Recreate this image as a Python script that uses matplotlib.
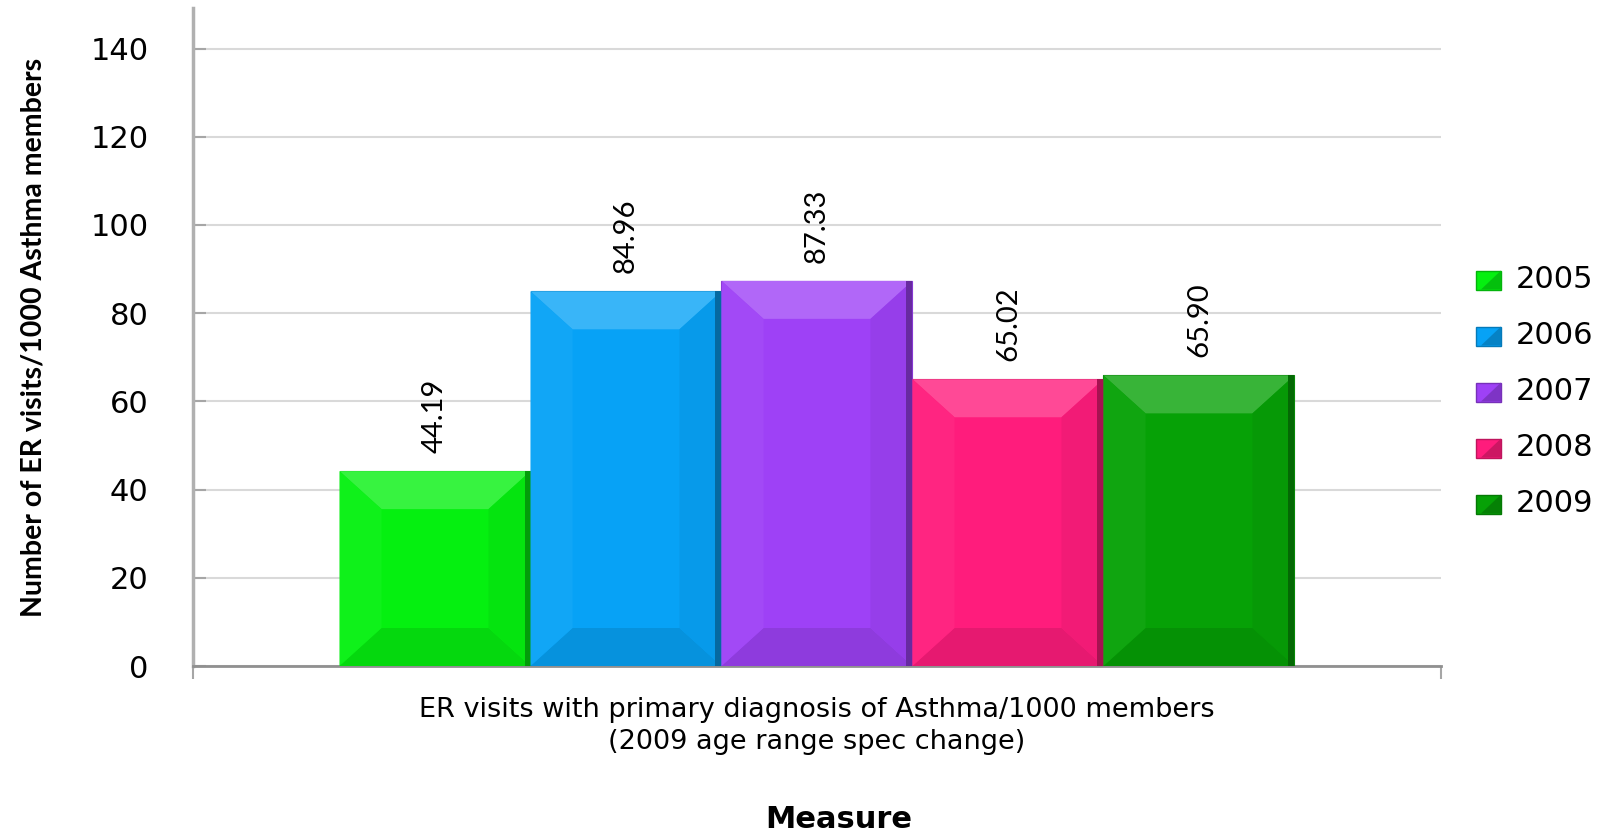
import numpy as np
import matplotlib
matplotlib.use('Agg')
import matplotlib.pyplot as plt
import matplotlib.colors as mcolors
from matplotlib.patches import Polygon, Rectangle

years = ['2005', '2006', '2007', '2008', '2009']
values = [44.19, 84.96, 87.33, 65.02, 65.90]
colors = ['#05F010', '#07A2F6', '#9E41F6', '#FF1C7C', '#06A106']
category = 'ER visits with primary diagnosis of Asthma/1000 members\n(2009 age range spec change)'

W, H = 1622, 832
fig = plt.figure(figsize=(W / 100, H / 100), dpi=100)
# axes box in pixels (left, top, right, bottom)
L, T, R, B = 193, 8, 1441, 666
ax = fig.add_axes([L / W, (H - B) / H, (R - L) / W, (B - T) / H])

ymax = 149.2
ax.set_xlim(-0.5, 0.5)
ax.set_ylim(0, ymax)
px_x = 1.0 / (R - L)
px_y = ymax / (B - T)

bw = 191 * px_x


def shade(c, f):
    r, g, b = mcolors.to_rgb(c)
    if f > 0:
        return (r + (1 - r) * f, g + (1 - g) * f, b + (1 - b) * f)
    return (r * (1 + f), g * (1 + f), b * (1 + f))


xs = (np.arange(len(values)) - 2) * bw
dx, dy = 42 * px_x, 38 * px_y
for x, v, c in zip(xs, values, colors):
    ax.bar(x, v, width=bw, color=c, edgecolor=shade(c, -0.25), linewidth=0.8, zorder=3)
    x0, x1 = x - bw / 2, x + bw / 2
    d = min(dy, v / 2)
    # bevel faces
    ax.add_patch(Polygon([(x0, v), (x1, v), (x1 - dx, v - d), (x0 + dx, v - d)],
                         closed=True, facecolor=shade(c, 0.2), edgecolor='none', zorder=4))
    ax.add_patch(Polygon([(x0, 0), (x1, 0), (x1 - dx, d), (x0 + dx, d)],
                         closed=True, facecolor=shade(c, -0.1), edgecolor='none', zorder=4))
    ax.add_patch(Polygon([(x0, 0), (x0, v), (x0 + dx, v - d), (x0 + dx, d)],
                         closed=True, facecolor=shade(c, 0.04), edgecolor='none', zorder=4))
    ax.add_patch(Polygon([(x1, 0), (x1, v), (x1 - dx, v - d), (x1 - dx, d)],
                         closed=True, facecolor=shade(c, -0.05), edgecolor='none', zorder=4))
    ax.add_patch(Rectangle((x1 - 6 * px_x, 0), 6 * px_x, v, facecolor=shade(c, -0.35),
                           edgecolor='none', zorder=4))
    ax.annotate(f'{v:.2f}', (x, v), xytext=(0, 13), textcoords='offset points',
                rotation=90, ha='center', va='bottom', fontsize=21,
                family=['Lato', 'DejaVu Sans'], zorder=5)

ax.set_yticks(np.arange(0, 141, 20))
ax.grid(axis='y', color='#D9D9D9', linewidth=1.5, zorder=0)
ax.tick_params(axis='y', direction='in', length=9, width=1.5, color='#A6A6A6',
               labelsize=22, pad=32)

ax.set_xticks([0])
ax.set_xticklabels([category], fontsize=19.5, linespacing=1.3)
ax.tick_params(axis='x', length=0, pad=22)
ax.set_xticks([-0.5, 0.5], minor=True)
ax.tick_params(axis='x', which='minor', length=9, width=1.5, color='#A6A6A6', direction='out')

for s in ['top', 'right']:
    ax.spines[s].set_visible(False)
ax.spines['left'].set_color('#B0B0B0')
ax.spines['left'].set_linewidth(2.5)
ax.spines['bottom'].set_color('#909090')
ax.spines['bottom'].set_linewidth(2)

ax.set_ylabel('Number of ER visits/1000 Asthma members', fontsize=20.5, fontweight='bold',
              family=['Lato', 'DejaVu Sans'])
ax.yaxis.set_label_coords(-0.1174, 0.5)
ax.set_xlabel('Measure', fontsize=22, fontweight='bold')
ax.xaxis.set_label_coords(0.5176, -0.2462)
ax.xaxis.label.set_va('baseline')

# legend drawn at fixed figure positions
for i, (yr, c) in enumerate(zip(years, colors)):
    yc = 280 + i * 56
    fx, fy = 1476 / W, (H - yc - 9.5) / H
    fig.patches.append(Rectangle((fx, fy), 25 / W, 19 / H, transform=fig.transFigure,
                                 facecolor=c, edgecolor=shade(c, -0.25), linewidth=1))
    fig.patches.append(Polygon([(fx + 25 / W, fy), (fx + 25 / W, fy + 19 / H), (fx + 5 / W, fy)],
                               closed=True, transform=fig.transFigure,
                               facecolor=shade(c, -0.2), edgecolor='none'))
    fig.text(1516 / W, (H - yc) / H, yr, fontsize=22, va='center', ha='left')

fig.savefig('out.png', dpi=100, facecolor='white')
